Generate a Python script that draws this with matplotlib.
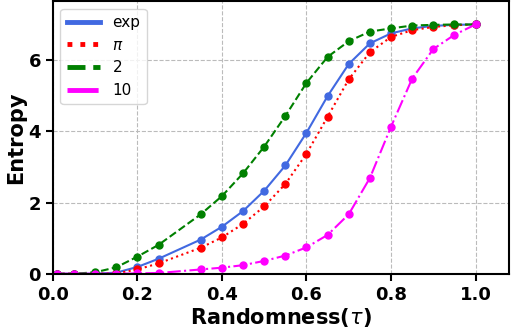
import matplotlib
matplotlib.use("Agg")
import matplotlib.pyplot as plt

tau = [0.01, 0.05, 0.1, 0.15, 0.2, 0.25, 0.35, 0.4, 0.45, 0.5, 0.55, 0.6, 0.65, 0.7, 0.75, 0.8, 0.85, 0.9, 0.95, 1.0]
ent_exp = [0.0, 0.0, 0.0, 0.03, 0.19, 0.42, 0.96, 1.32, 1.76, 2.33, 3.04, 3.96, 4.99, 5.89, 6.47, 6.75, 6.89, 6.96, 6.99, 7.0]
ent_pi = [0.0, 0.0, 0.0, 0.01, 0.12, 0.29, 0.73, 1.02, 1.40, 1.89, 2.52, 3.37, 4.41, 5.46, 6.22, 6.65, 6.84, 6.93, 6.98, 7.0]
ent_2 = [0.0, 0.0, 0.04, 0.18, 0.48, 0.81, 1.67, 2.18, 2.82, 3.57, 4.43, 5.36, 6.09, 6.53, 6.80, 6.89, 6.97, 6.99, 7.0, 7.0]
ent_10 = [0.0, 0.0, 0.0, 0.0, 0.01, 0.02, 0.12, 0.17, 0.24, 0.36, 0.51, 0.74, 1.09, 1.67, 2.69, 4.13, 5.48, 6.31, 6.71, 7.0]

labels = ["exp", r"$\pi$", "2", "10"]
colors = ["royalblue", "red", "green", "magenta"]
styles = ["-", ":", "--", "-."]
series = [ent_exp, ent_pi, ent_2, ent_10]

fig = plt.figure(figsize=(5.13, 3.33), dpi=100)
ax = fig.add_axes([0.103, 0.178, 0.89, 0.818])
for ys, lab, c, ls in zip(series, labels, colors, styles):
    ax.plot(tau, ys, linestyle=ls, color=c, marker="o", markersize=5, linewidth=1.5, label=lab)

ax.set_xlim(0, 1.08)
ax.set_ylim(0, 7.65)
ax.set_xticks([0.0, 0.2, 0.4, 0.6, 0.8, 1.0])
ax.set_yticks([0, 2, 4, 6])
ax.grid(True, linestyle="--", color="#bbbbbb", linewidth=0.8)
ax.set_axisbelow(True)
for sp in ax.spines.values():
    sp.set_linewidth(1.5)
ax.tick_params(axis="both", labelsize=13, width=1.5, length=5)
for t in ax.get_xticklabels() + ax.get_yticklabels():
    t.set_fontweight("bold")
ax.set_xlabel(r"Randomness($\tau$)", fontsize=15, fontweight="bold", labelpad=2)
ax.set_ylabel("Entropy", fontsize=15, fontweight="bold", labelpad=2)

leg = ax.legend(loc="upper left", fontsize=11, handlelength=2.2)
for ln in leg.get_lines():
    ln.set_linewidth(3.5)
    ln.set_marker("")

fig.savefig("out.png", dpi=100)
